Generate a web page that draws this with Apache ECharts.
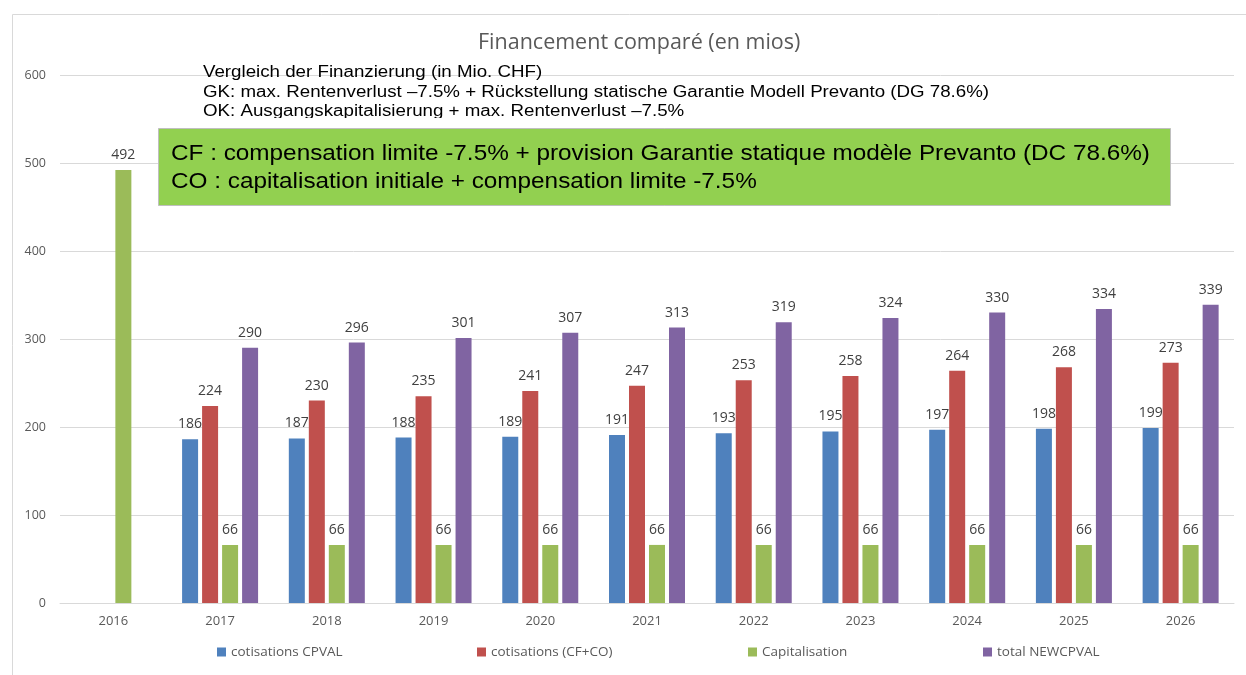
<!DOCTYPE html>
<html>
<head>
<meta charset="utf-8">
<script src="https://cdn.jsdelivr.net/npm/echarts@6/dist/echarts.min.js"></script>
<style>
  html, body { margin: 0; padding: 0; background: #fff; }
  #chart { width: 1246px; height: 675px; }
</style>
</head>
<body>
<div id="chart"></div>
<script>
// années
var years = ['2016', '2017', '2018', '2019', '2020', '2021', '2022', '2023', '2024', '2025', '2026'];
// séries (en mios)
var cotisCPVAL = [null, 186, 187, 188, 189, 191, 193, 195, 197, 198, 199];
var cotisCFCO  = [null, 224, 230, 235, 241, 247, 253, 258, 264, 268, 273];
var capitalisation = [492, 66, 66, 66, 66, 66, 66, 66, 66, 66, 66];
var totalNew   = [null, 290, 296, 301, 307, 313, 319, 324, 330, 334, 339];
var seriesNames = ['cotisations CPVAL', 'cotisations (CF+CO)', 'Capitalisation', 'total NEWCPVAL'];
var colors = ['#4F81BD', '#C0504D', '#9BBB59', '#8064A2'];

var font = '"Open Sans", "Noto Sans", sans-serif';
var arial = '"Liberation Sans", Arial, sans-serif';

function bar(name, data, color) {
	return {
		name: name,
		type: 'bar',
		data: data,
		barWidth: 16,
		barGap: '25%',
		itemStyle: { color: color },
		label: {
			show: true,
			position: 'top',
			distance: 8,
			color: '#404040',
			fontSize: 14,
			fontFamily: font
		}
	};
}

var legendLeft = [212, 472, 743, 978];

var option = {
	animation: false,
	title: {
		text: 'Financement comparé (en mios)',
		left: 473,
		top: 27,
		textStyle: { color: '#595959', fontSize: 21.5, fontWeight: 'normal', fontFamily: font }
	},
	grid: { left: 60, right: 12, top: 75, bottom: 72 },
	legend: seriesNames.map(function(n, i) {
		return {
			data: [n],
			left: legendLeft[i],
			top: 640,
			icon: 'rect',
			itemWidth: 9,
			itemHeight: 9,
			itemGap: 4,
			textStyle: { color: '#595959', fontSize: 13.5, fontFamily: font }
		};
	}),
	xAxis: {
		type: 'category',
		data: years,
		axisLine: { lineStyle: { color: '#d9d9d9' } },
		axisTick: { show: false },
		axisLabel: { color: '#595959', fontSize: 13, margin: 12, fontFamily: font }
	},
	yAxis: {
		type: 'value',
		min: 0,
		max: 600,
		interval: 100,
		axisLine: { show: false },
		axisTick: { show: false },
		axisLabel: { color: '#595959', fontSize: 12.5, margin: 14, fontFamily: font },
		splitLine: { lineStyle: { color: '#d9d9d9' } }
	},
	series: [
		bar(seriesNames[0], cotisCPVAL, colors[0]),
		bar(seriesNames[1], cotisCFCO, colors[1]),
		bar(seriesNames[2], capitalisation, colors[2]),
		bar(seriesNames[3], totalNew, colors[3])
	],
	graphic: [
		{
			type: 'rect', left: 10, top: 12, z: -10, silent: true,
			shape: { width: 1250, height: 680 },
			style: { fill: 'none', stroke: '#d9d9d9', lineWidth: 1 }
		},
		{
			type: 'text', x: 203, y: 63, scaleX: 1.17, z: 100,
			style: {
				text: 'Vergleich der Finanzierung (in Mio. CHF)\nGK: max. Rentenverlust \u20137.5% + Rückstellung statische Garantie Modell Prevanto (DG 78.6%)\nOK: Ausgangskapitalisierung + max. Rentenverlust \u20137.5%',
				fill: '#000', fontSize: 16, lineHeight: 19.5, fontFamily: arial
			}
		},
		{
			type: 'rect', left: 195, top: 118, z: 101, silent: true,
			shape: { width: 620, height: 9 },
			style: { fill: '#fff' }
		},
		{
			type: 'rect', left: 158, top: 128, z: 102, silent: true,
			shape: { width: 1012, height: 77 },
			style: { fill: '#92D050', stroke: '#bfbfbf', lineWidth: 1 }
		},
		{
			type: 'text', x: 171, y: 140, scaleX: 1.105, z: 103,
			style: {
				text: 'CF : compensation limite -7.5% + provision Garantie statique modèle Prevanto (DC 78.6%)\nCO : capitalisation initiale + compensation limite -7.5%',
				fill: '#000', fontSize: 22, lineHeight: 28, fontFamily: arial
			}
		}
	]
};

var myChart = echarts.init(document.getElementById('chart'));
myChart.setOption(option);
</script>
</body>
</html>
